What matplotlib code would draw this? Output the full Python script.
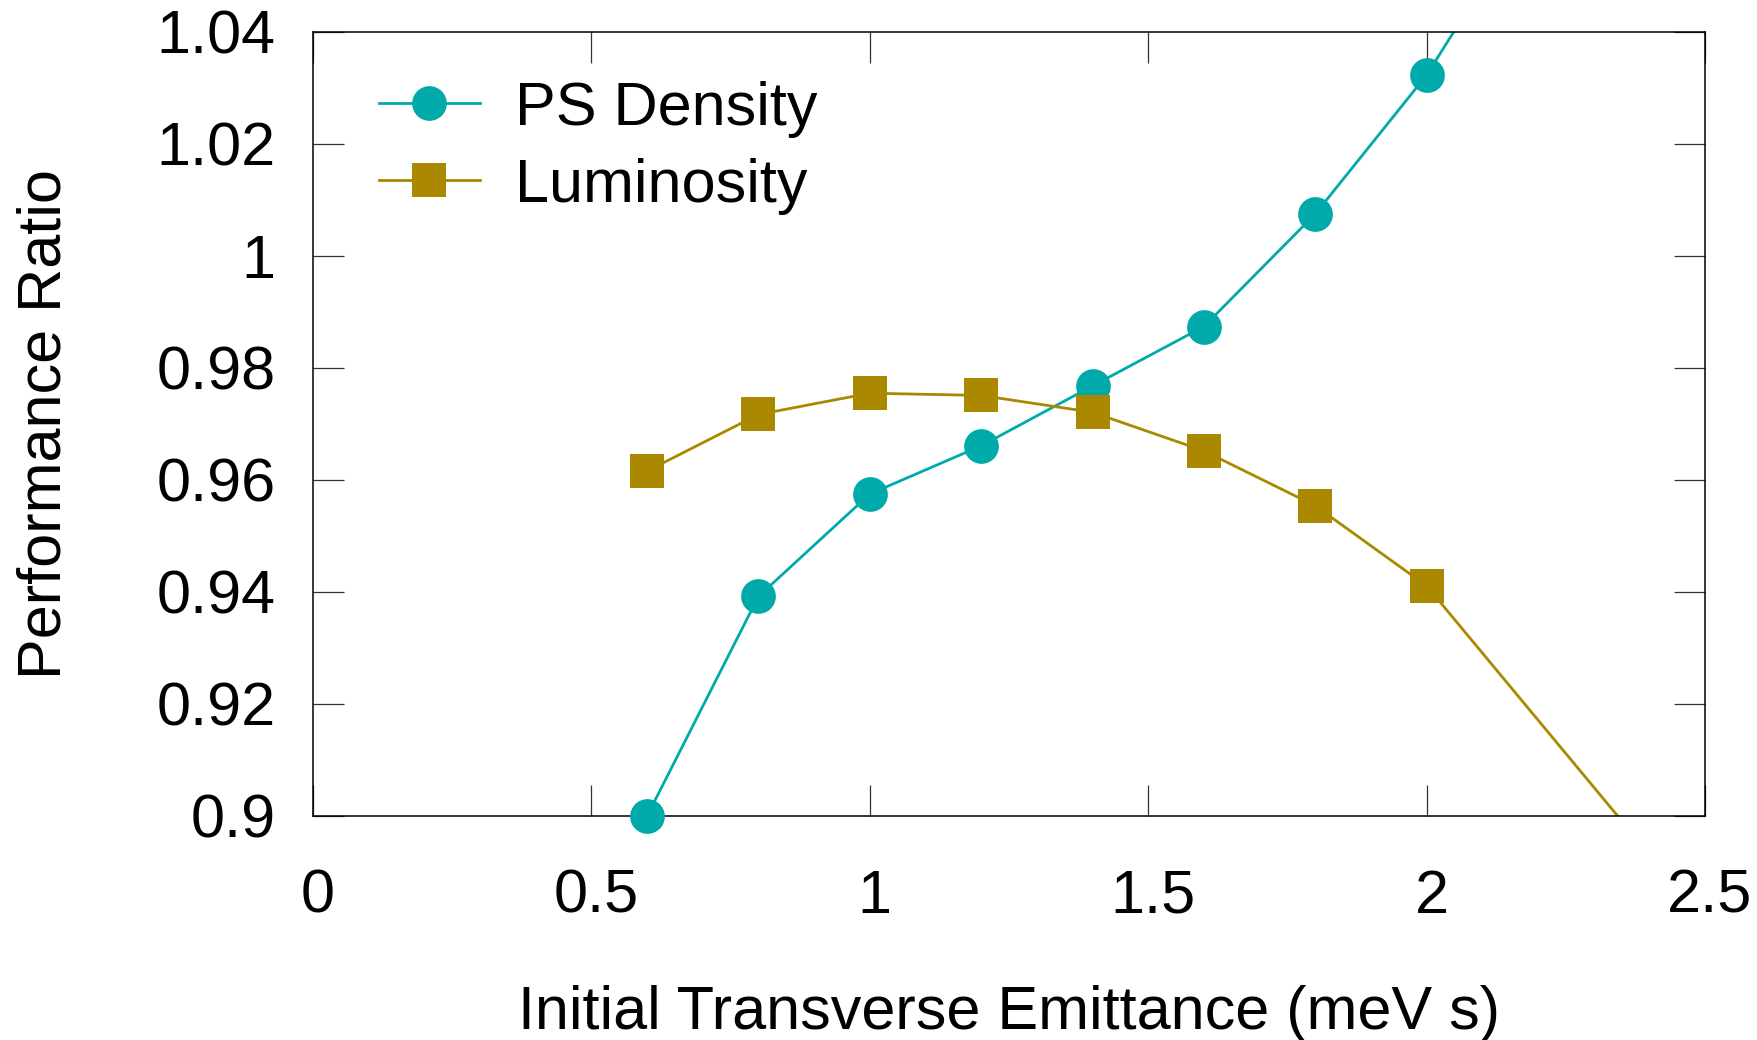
import matplotlib.pyplot as plt
import matplotlib.transforms as mtransforms
import numpy as np
from matplotlib.lines import Line2D

plt.rcParams['font.family'] = ['Liberation Sans', 'DejaVu Sans']

# emittance scan, ratios relative to the reference case
emittance = np.array([0.6, 0.8, 1.0, 1.2, 1.4, 1.6, 1.8, 2.0, 2.4])
ps_density = np.array([0.9000, 0.9392, 0.9575, 0.9661, 0.9768, 0.9874, 1.0075, 1.0323, 1.0957])
luminosity = np.array([0.9616, 0.9717, 0.9755, 0.9751, 0.9721, 0.9652, 0.9554, 0.9411, 0.8932])

xlim = (0, 2.5)
ylim = (0.9, 1.04)
xticks = [0, 0.5, 1, 1.5, 2, 2.5]
xtick_labels = ['0', '0.5', '1', '1.5', '2', '2.5']
yticks = [0.9, 0.92, 0.94, 0.96, 0.98, 1.0, 1.02, 1.04]
ytick_labels = ['0.9', '0.92', '0.94', '0.96', '0.98', '1', '1.02', '1.04']

teal = '#00aaaa'
gold = '#aa8800'
fs = 44

fig = plt.figure(figsize=(17.58, 10.40), dpi=100)
ax = fig.add_axes([313 / 1758, 224 / 1040, 1392 / 1758, 784 / 1040])


def draw_series(x, y, color, marker):
    # line is clipped at the frame, points inside the range are drawn whole
    ax.plot(x, y, color=color, lw=2.0, zorder=2)
    inside = (x >= xlim[0]) & (x <= xlim[1]) & (y >= ylim[0] - 1e-9) & (y <= ylim[1])
    ax.plot(x[inside], y[inside], ls='none', marker=marker, ms=25, mew=0,
            color=color, clip_on=False, zorder=3)


draw_series(emittance, ps_density, teal, 'o')
draw_series(emittance, luminosity, gold, 's')

ax.set_xlim(*xlim)
ax.set_ylim(*ylim)
ax.set_xticks(xticks)
ax.set_xticklabels(xtick_labels)
ax.set_yticks(yticks)
ax.set_yticklabels(ytick_labels)
ax.tick_params(direction='in', length=22, width=0.9, color='#333333',
               top=True, right=True, labelsize=fs)
ax.tick_params(axis='x', pad=38)
ax.tick_params(axis='y', pad=27)
for s in ax.spines.values():
    s.set_linewidth(1.1)
    s.set_color('black')

# nudge the x tick labels a few pixels to the right
shift = mtransforms.ScaledTranslation(5 / 100, 0, fig.dpi_scale_trans)
for lbl in ax.get_xticklabels():
    lbl.set_transform(lbl.get_transform() + shift)

ax.set_xlabel('Initial Transverse Emittance (meV s)', fontsize=fs)
ax.xaxis.set_label_coords(0.5, -0.216)
ax.set_ylabel('Performance Ratio', fontsize=fs)
ax.yaxis.set_label_coords(-0.172, 0.5)

handles = [
    Line2D([], [], color=teal, lw=2.0, marker='o', ms=25, mew=0),
    Line2D([], [], color=gold, lw=2.0, marker='s', ms=25, mew=0),
]
ax.legend(handles, ['PS Density', 'Luminosity'], loc='upper left',
          bbox_to_anchor=(0.0474, 0.938), frameon=False, fontsize=fs,
          handlelength=1.65, handletextpad=0.58, borderpad=0,
          borderaxespad=0, labelspacing=0.33)

fig.savefig('out.png', dpi=100)
